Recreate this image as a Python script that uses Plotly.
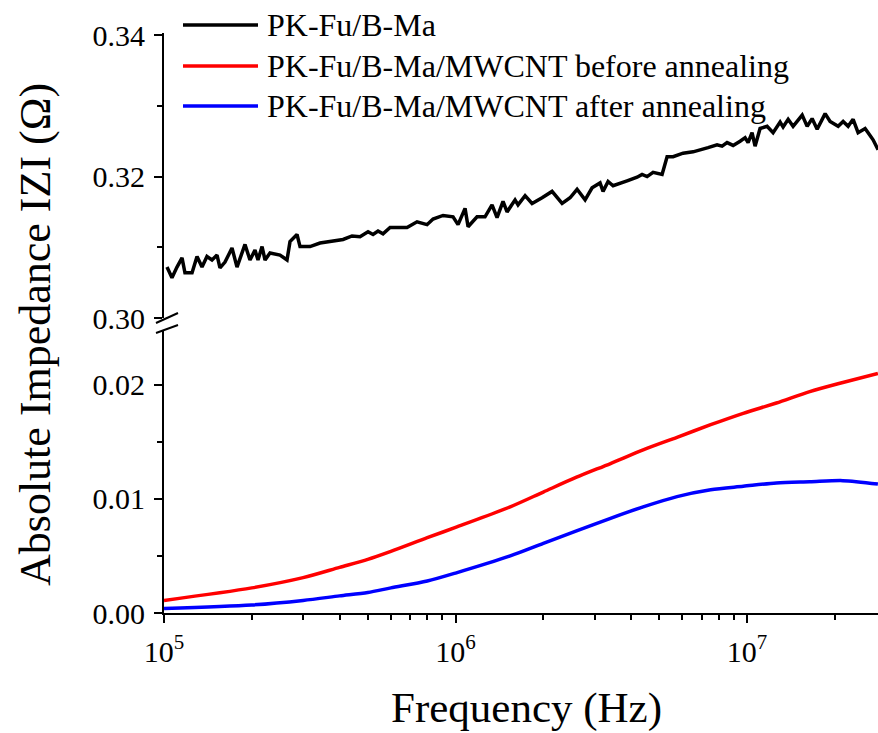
import plotly.graph_objects as go

# ---------------- data ----------------
series_names = ["PK-Fu/B-Ma",
                "PK-Fu/B-Ma/MWCNT before annealing",
                "PK-Fu/B-Ma/MWCNT after annealing"]
series_colors = ["#000000", "#ff0000", "#0000ff"]

freq_black = [1.024e5, 1.065e5, 1.108e5, 1.153e5, 1.180e5, 1.248e5, 1.298e5, 1.350e5,
              1.404e5, 1.461e5, 1.520e5, 1.556e5, 1.619e5, 1.711e5, 1.780e5, 1.896e5,
              1.972e5, 2.052e5, 2.101e5, 2.169e5, 2.221e5, 2.310e5, 2.500e5, 2.642e5,
              2.705e5, 2.859e5, 2.928e5, 3.169e5, 3.429e5, 3.801e5, 4.113e5, 4.415e5,
              4.703e5, 5.010e5, 5.212e5, 5.422e5, 5.640e5, 5.963e5, 6.350e5, 6.818e5,
              7.378e5, 7.985e5, 8.372e5, 9.060e5, 9.804e5, 1.020e6, 1.078e6, 1.104e6,
              1.185e6, 1.262e6, 1.334e6, 1.388e6, 1.455e6, 1.502e6, 1.600e6, 1.638e6,
              1.732e6, 1.830e6, 1.981e6, 2.143e6, 2.320e6, 2.471e6, 2.611e6, 2.782e6,
              2.940e6, 3.131e6, 3.206e6, 3.336e6, 3.470e6, 3.667e6, 3.876e6, 4.194e6,
              4.363e6, 4.539e6, 4.759e6, 5.110e6, 5.316e6, 5.575e6, 6.031e6, 6.528e6,
              7.008e6, 7.347e6, 7.889e6, 8.207e6, 8.538e6, 8.954e6, 9.463e6, 9.843e6,
              1.008e7, 1.040e7, 1.065e7, 1.108e7, 1.171e7, 1.228e7, 1.298e7, 1.329e7,
              1.383e7, 1.438e7, 1.545e7, 1.607e7, 1.671e7, 1.739e7, 1.852e7, 1.926e7,
              2.053e7, 2.135e7, 2.221e7, 2.310e7, 2.403e7, 2.540e7, 2.601e7, 2.705e7,
              2.814e7]
z_black = [0.3072, 0.3057, 0.3072, 0.3085, 0.3064, 0.3064, 0.3087, 0.3072,
           0.3087, 0.3082, 0.3089, 0.3071, 0.3079, 0.3099, 0.3072, 0.3104,
           0.3082, 0.3096, 0.3082, 0.3101, 0.3082, 0.3092, 0.3089, 0.3082,
           0.3108, 0.3118, 0.3101, 0.3101, 0.3106, 0.3109, 0.3111, 0.3116,
           0.3115, 0.3122, 0.3118, 0.3123, 0.3119, 0.3128, 0.3128, 0.3128,
           0.3136, 0.3132, 0.3140, 0.3145, 0.3143, 0.3132, 0.3155, 0.3129,
           0.3143, 0.3143, 0.3160, 0.3142, 0.3165, 0.3150, 0.3167, 0.3160,
           0.3173, 0.3162, 0.3170, 0.3179, 0.3162, 0.3170, 0.3182, 0.3167,
           0.3184, 0.3191, 0.3179, 0.3193, 0.3187, 0.3191, 0.3194, 0.3199,
           0.3203, 0.3200, 0.3206, 0.3203, 0.3228, 0.3228, 0.3233, 0.3235,
           0.3238, 0.3241, 0.3245, 0.3243, 0.3248, 0.3244, 0.3250, 0.3255,
           0.3248, 0.3262, 0.3243, 0.3268, 0.3271, 0.3262, 0.3277, 0.3270,
           0.3281, 0.3271, 0.3287, 0.3271, 0.3282, 0.3267, 0.3289, 0.3278,
           0.3271, 0.3278, 0.3271, 0.3281, 0.3262, 0.3268, 0.3262, 0.3252,
           0.3238]

freq_cnt = [1.0e5, 2.0e5, 3.0e5, 4.0e5, 5.0e5, 6.0e5, 8.0e5, 1.0e6, 1.54e6, 2.0e6,
            2.6e6, 3.4e6, 4.4e6, 5.75e6, 7.5e6, 9.7e6, 1.26e7, 1.64e7, 2.13e7, 2.81e7]
z_before = [0.0011, 0.0022, 0.0031, 0.0040, 0.0047, 0.0054, 0.0066, 0.0075, 0.0093, 0.0106,
            0.0119, 0.0131, 0.0143, 0.0154, 0.0165, 0.0175, 0.0184, 0.0194, 0.0202, 0.0210]
z_after = [0.0004, 0.0007, 0.0011, 0.0015, 0.0018, 0.0022, 0.0028, 0.0035, 0.0050, 0.0061,
           0.0072, 0.0083, 0.0093, 0.0102, 0.0108, 0.0111, 0.0114, 0.0115, 0.0116, 0.0113]

x_tick_vals = [1e5, 1e6, 1e7]
x_tick_text = ["10<sup>5</sup>", "10<sup>6</sup>", "10<sup>7</sup>"]
x_minor_vals = [2e5, 3e5, 4e5, 5e5, 6e5, 7e5, 8e5, 9e5,
                2e6, 3e6, 4e6, 5e6, 6e6, 7e6, 8e6, 9e6, 2e7]
y_low_ticks = [0.00, 0.01, 0.02]
y_low_text = ["0.00", "0.01", "0.02"]
y_low_minor = [0.005, 0.015]
y_high_ticks = [0.30, 0.32, 0.34]
y_high_text = ["0.30", "0.32", "0.34"]
y_high_minor = [0.31, 0.33]

FONT = "Liberation Serif"

fig = go.Figure()
fig.add_trace(go.Scatter(x=freq_black, y=z_black, mode="lines", name=series_names[0],
                         line=dict(color=series_colors[0], width=3.5), yaxis="y2"))
fig.add_trace(go.Scatter(x=freq_cnt, y=z_before, mode="lines", name=series_names[1],
                         line=dict(color=series_colors[1], width=3.5, shape="spline",
                                   smoothing=0.8), yaxis="y"))
fig.add_trace(go.Scatter(x=freq_cnt, y=z_after, mode="lines", name=series_names[2],
                         line=dict(color=series_colors[2], width=3.5, shape="spline",
                                   smoothing=0.8), yaxis="y"))

H, W = 733, 878
T, B, L, R = 33, 120, 164, 0
ph = H - T - B
pw = W - L - R

def py(p):
    return (H - B - p) / ph

def px(p):
    return (p - L) / pw

axis_common = dict(showline=True, linecolor="black", linewidth=2, ticks="outside",
                   tickwidth=2, ticklen=8, tickcolor="black", showgrid=False, zeroline=False,
                   ticklabelstandoff=3,
                   tickfont=dict(family=FONT, size=30, color="black"))

fig.update_layout(
    width=W, height=H, margin=dict(l=L, r=R, t=T, b=B),
    paper_bgcolor="white", plot_bgcolor="white", showlegend=False,
    xaxis=dict(type="log", range=[5, 7.449], tickmode="array", tickvals=x_tick_vals,
               ticktext=x_tick_text, anchor="y",
               minor=dict(tickmode="array", tickvals=x_minor_vals, ticks="outside",
                          ticklen=5, tickwidth=2, tickcolor="black"),
               **axis_common),
    yaxis=dict(domain=[0, py(330)], range=[0, 0.0248], tickmode="array",
               tickvals=y_low_ticks, ticktext=y_low_text,
               minor=dict(tickmode="array", tickvals=y_low_minor, ticks="outside",
                          ticklen=5, tickwidth=2, tickcolor="black"),
               **axis_common),
    yaxis2=dict(domain=[py(318), 1], range=[0.30, 0.3403], tickmode="array",
                tickvals=y_high_ticks, ticktext=y_high_text, anchor="x",
                minor=dict(tickmode="array", tickvals=y_high_minor, ticks="outside",
                           ticklen=5, tickwidth=2, tickcolor="black"),
                **axis_common),
)

# axis break marks
for y0p, y1p in [(323, 313), (333, 325)]:
    fig.add_shape(type="line", xref="paper", yref="paper",
                  x0=px(156), y0=py(y0p), x1=px(178), y1=py(y1p),
                  line=dict(color="black", width=2))

# manual legend
for i, (name, col) in enumerate(zip(series_names, series_colors)):
    yy = [25, 66, 106][i]
    fig.add_shape(type="line", xref="paper", yref="paper",
                  x0=px(183), x1=px(258), y0=py(yy), y1=py(yy),
                  line=dict(color=col, width=3.5))
    fig.add_annotation(xref="paper", yref="paper", x=px(265), y=py(yy),
                       xanchor="left", yanchor="middle", text=name, showarrow=False,
                       font=dict(family=FONT, size=32, color="black"))

# axis titles
fig.add_annotation(xref="paper", yref="paper", x=px(526), y=py(733),
                   xanchor="center", yanchor="bottom", text="Frequency (Hz)",
                   showarrow=False, borderpad=0,
                   font=dict(family=FONT, size=43, color="black"))
fig.add_annotation(xref="paper", yref="paper", x=px(35), y=py(335),
                   xanchor="center", yanchor="middle", text="Absolute Impedance IZI (Ω)",
                   textangle=-90, showarrow=False,
                   font=dict(family=FONT, size=44, color="black"))

fig.write_html("out.html", config={"displayModeBar": False},
               post_script="document.body.style.margin='0';document.body.style.padding='0';")
